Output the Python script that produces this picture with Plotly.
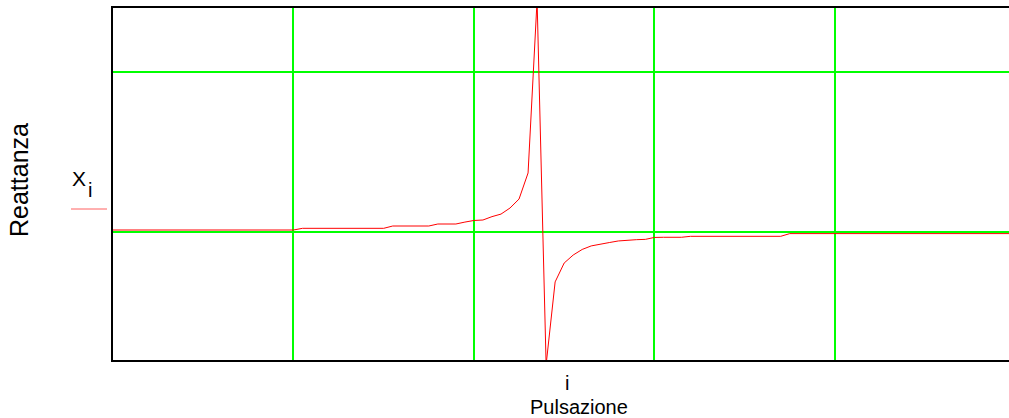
import plotly.graph_objects as go

# index i (pulsazione samples)
i_values = list(range(101))

# reactance X_i
x_react = (
    [12.5] * 21 +            # i = 0..20
    [23] * 10 +              # i = 21..30
    [37.5] * 5 +             # i = 31..35
    [50] * 3 +               # i = 36..38
    [62, 72, 75, 96, 112, 150, 206, 369, 1450,   # i = 39..47
     -830, -312, -194, -144, -109, -87, -75, -66, -56, -50, -48, -46, -34] +  # i = 48..60
    [-33] * 3 +              # i = 61..63
    [-27] * 11 +             # i = 64..74
    [-10] * 26               # i = 75..100
)

x_grid = [20, 40, 60, 80]
y_grid = [0, 1000]
x_range = [0, 99.3]
y_range = [-800, 1400]

W, H = 1009, 418
L, T, B = 113, 8, 58
pw, ph = W - L, H - T - B


def px(x):
    return (x - L) / pw


def py(y):
    return (H - B - y) / ph


fig = go.Figure()
fig.add_trace(go.Scatter(x=i_values, y=x_react, mode="lines",
                         line=dict(color="#ff0000", width=1), showlegend=False))

font = "Liberation Sans, Arial, sans-serif"
fig.update_layout(
    width=W, height=H,
    margin=dict(l=L, r=0, t=T, b=B, pad=0),
    plot_bgcolor="white", paper_bgcolor="white",
    xaxis=dict(range=x_range, tickvals=x_grid, showticklabels=False, ticks="",
               showgrid=True, gridcolor="#00ff00", gridwidth=2, zeroline=False,
               showline=True, linecolor="black", linewidth=2, mirror=True),
    yaxis=dict(range=y_range, tickvals=y_grid, showticklabels=False, ticks="",
               showgrid=True, gridcolor="#00ff00", gridwidth=2, zeroline=False,
               showline=True, linecolor="black", linewidth=2, mirror=False),
    font=dict(family=font, color="black"),
)

fig.add_annotation(text="Reattanza", textangle=-90, x=px(19), y=py(180),
                   xref="paper", yref="paper", showarrow=False,
                   xanchor="center", yanchor="middle", font=dict(size=25))
fig.add_annotation(text="X", x=px(79), y=py(178),
                   xref="paper", yref="paper", showarrow=False,
                   xanchor="center", yanchor="middle", font=dict(size=21))
fig.add_annotation(text="i", x=px(89.5), y=py(190),
                   xref="paper", yref="paper", showarrow=False,
                   xanchor="center", yanchor="middle", font=dict(size=20))
fig.add_shape(type="line", xref="paper", yref="paper",
              x0=px(71), x1=px(107), y0=py(209), y1=py(209),
              line=dict(color="#ff6060", width=1))
fig.add_annotation(text="i", x=px(567), y=py(383),
                   xref="paper", yref="paper", showarrow=False,
                   xanchor="center", yanchor="middle", font=dict(size=20))
fig.add_annotation(text="Pulsazione", x=px(579), y=py(407),
                   xref="paper", yref="paper", showarrow=False,
                   xanchor="center", yanchor="middle", font=dict(size=20))

fig.write_html("out.html", config={"displayModeBar": False},
               post_script="document.body.style.margin='0';document.body.style.overflow='hidden';")
